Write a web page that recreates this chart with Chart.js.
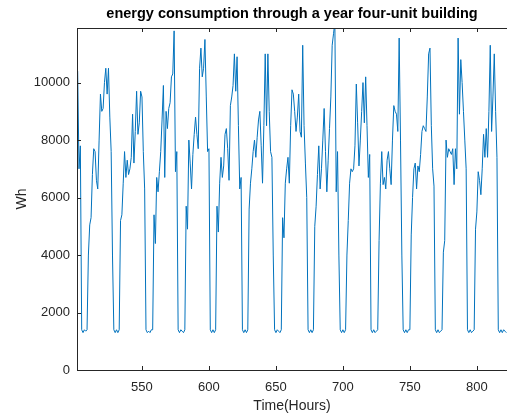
<!DOCTYPE html>
<html>
<head>
<meta charset="utf-8">
<script src="https://cdn.jsdelivr.net/npm/chart.js@4.4.1/dist/chart.umd.min.js"></script>
<style>
  html, body { margin: 0; padding: 0; background: #fff; }
  #wrap { width: 507px; height: 416px; }
</style>
</head>
<body>
<div id="wrap"><canvas id="energyChart" width="507" height="416"></canvas></div>
<script>
// hourly readings, first one is hour 502
const firstHour = 502;
const energyWh = [
  10400, 7000, 7800,
  1400, 1300, 1400, 1350, 1400,
  4000, 5050, 5300, 6800, 7700, 7600, 6600, 6300, 8000, 9600, 9000, 9100, 10000, 10500, 9600, 10500, 8800, 7600, 4000,
  1400, 1300, 1400, 1300, 1400,
  5200, 5400, 6500, 7600, 6700, 7300, 6800, 7000, 7400, 8900, 7200, 8300, 9700, 8200, 8600, 9700, 9500, 7600, 6300,
  1400, 1300, 1350, 1300, 1400, 1400,
  5400, 4400, 6700, 6200, 6900, 7600, 8700, 9900, 6700, 9000, 8400, 9100, 9300, 10200, 10300, 11800, 6900, 7600,
  1400, 1300, 1400, 1350, 1300, 1400,
  5700, 4900, 8000, 7200, 6300, 7500, 8200, 8800, 8200, 7700, 10500, 11200, 10200, 10500, 11500, 9500, 7600, 7700,
  1400, 1300, 1400, 1300, 1400,
  5700, 4800, 6500, 7400, 6700, 7100, 8200, 8400, 7700, 6600, 9200, 9500, 9900, 11000, 9700, 10900, 8500, 6300, 6700,
  1400, 1300, 1400, 1300, 1400,
  5600, 6500, 7000, 7600, 8000, 7400, 8100, 8700, 9000, 7800, 6500, 8500, 11000, 8500, 11000, 9000, 7600, 7400, 4000,
  1400, 1300, 1400, 1350, 1300, 1400,
  5300, 4600, 6500, 7000, 7400, 6500, 8500, 9750, 9600, 9000, 8300, 8800, 9600, 8300, 8100, 11300, 8500, 7200, 6000,
  1400, 1300, 1400, 1300, 1400,
  5000, 5700, 6800, 7800, 6300, 7000, 8000, 9100, 7600, 6200, 7300, 8400, 9500, 11300, 11700, 12100, 6200, 7600, 4000,
  1400, 1300, 1400, 1300, 1400,
  4000, 5200, 6500, 7000, 6900, 7000, 7800, 9950, 8600, 7100, 8000, 9000, 10000, 8600, 10200, 8500, 6700, 7500,
  1400, 1300, 1400, 1300, 1350, 1400,
  4500, 6500, 7600, 6450, 6700, 6300, 7300, 7600, 7000, 6450, 8000, 9200, 9000, 8900, 8300, 11550, 8000, 4000,
  1400, 1300, 1400, 1300, 1400, 1400,
  4700, 6000, 7000, 7200, 6300, 7100, 6900, 7500, 8300, 8500, 8400, 8300, 9500, 11000, 11200, 8500, 7000, 6400,
  1400, 1300, 1400, 1300, 1350, 1400,
  4100, 4500, 8000, 7400, 7700, 7600, 7500, 7700, 6450, 7700, 7000, 11550, 8900, 10800, 10000, 9000, 8000, 7000,
  1400, 1300, 1400, 1300, 1350, 1400,
  4900, 5500, 6900, 6600, 6100, 7000, 8200, 7400, 8400, 7400, 9000, 11300, 8300, 9500, 11000, 9000, 7400,
  1400, 1300, 1400, 1300, 1400, 1350, 1300
];
const xTicks = [550, 600, 650, 700, 750, 800];
const yTicks = [0, 2000, 4000, 6000, 8000, 10000];

const points = energyWh.map((v, i) => ({ x: firstHour + i, y: v }));
const axisColor = "#262626";
const fontFamily = "'Liberation Sans', Arial, sans-serif";

// matlab style box with inward ticks
const frame = {
  id: "frame",
  afterDraw(chart) {
    const c = chart.ctx;
    const a = chart.chartArea;
    const xs = chart.scales.x, ys = chart.scales.y;
    c.save();
    c.strokeStyle = axisColor;
    c.lineWidth = 1;
    c.beginPath();
    c.moveTo(a.left + 0.5, a.top + 0.5);
    c.lineTo(a.right, a.top + 0.5);
    c.moveTo(a.left + 0.5, a.top);
    c.lineTo(a.left + 0.5, a.bottom + 0.5);
    c.lineTo(a.right, a.bottom + 0.5);
    xTicks.forEach(v => {
      const px = Math.round(xs.getPixelForValue(v)) + 0.5;
      c.moveTo(px, a.bottom);
      c.lineTo(px, a.bottom - 4);
      c.moveTo(px, a.top);
      c.lineTo(px, a.top + 4);
    });
    yTicks.forEach(v => {
      const py = Math.round(ys.getPixelForValue(v)) + 0.5;
      c.moveTo(a.left, py);
      c.lineTo(a.left + 4, py);
    });
    c.stroke();
    c.restore();
  }
};

new Chart(document.getElementById("energyChart"), {
  type: "line",
  data: {
    datasets: [{
      data: points,
      borderColor: "#0072BD",
      borderWidth: 1,
      pointRadius: 0,
      tension: 0,
      fill: false
    }]
  },
  options: {
    responsive: false,
    animation: false,
    layout: { padding: { top: 0, left: 0, right: 0, bottom: 0 } },
    plugins: {
      legend: { display: false },
      tooltip: { enabled: false },
      title: {
        display: true,
        fullSize: false,
        text: "energy consumption through a year four-unit building",
        color: "#000",
        font: { family: fontFamily, size: 14.5, weight: "bold" },
        padding: { top: 5.5, bottom: 5.1 }
      }
    },
    scales: {
      x: {
        type: "linear",
        min: 501.5,
        max: 822.5,
        grid: { display: false, drawTicks: false },
        border: { display: false },
        afterBuildTicks: s => { s.ticks = xTicks.map(v => ({ value: v })); },
        afterFit: s => { s.height = 46; },
        ticks: {
          color: axisColor,
          padding: 10,
          maxRotation: 0,
          font: { family: fontFamily, size: 13 },
          callback: v => String(v)
        },
        title: {
          display: true,
          text: "Time(Hours)",
          color: axisColor,
          font: { family: fontFamily, size: 14 },
          padding: { top: 0, bottom: 1 }
        }
      },
      y: {
        min: 0,
        max: 11900,
        grid: { display: false, drawTicks: false },
        border: { display: false },
        afterBuildTicks: s => { s.ticks = yTicks.map(v => ({ value: v })); },
        afterFit: s => { s.width = 77; },
        ticks: {
          color: axisColor,
          padding: 7,
          font: { family: fontFamily, size: 13 },
          callback: v => String(v)
        },
        title: {
          display: true,
          text: "Wh",
          color: axisColor,
          font: { family: fontFamily, size: 14 },
          padding: { top: 14, bottom: 0 }
        }
      }
    }
  },
  plugins: [frame]
});
</script>
</body>
</html>
